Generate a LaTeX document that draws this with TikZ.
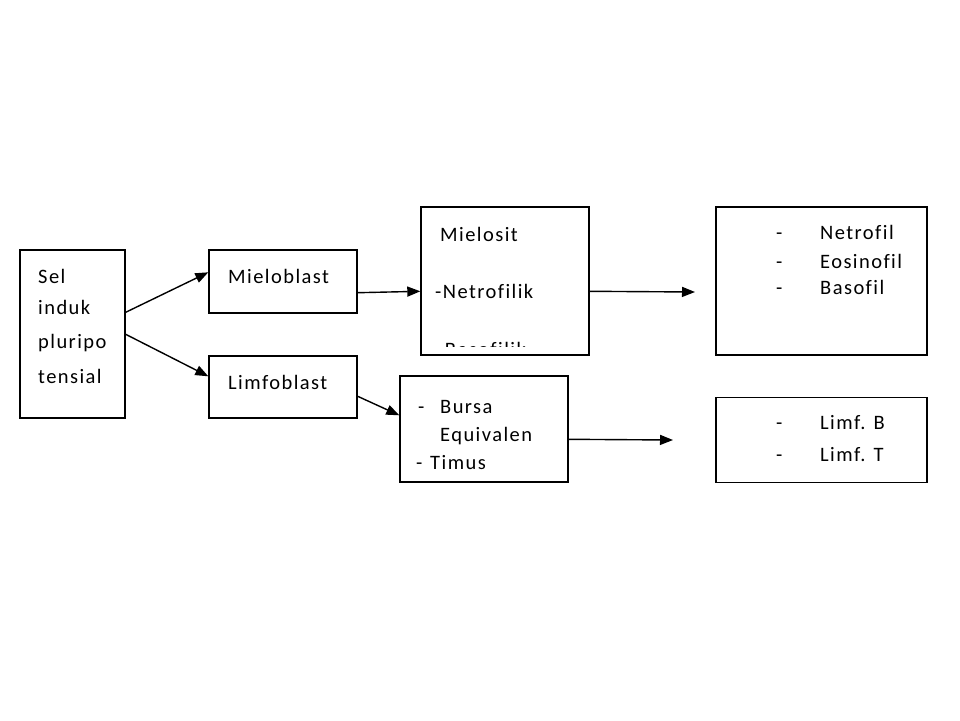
\documentclass[tikz,border=0pt]{standalone}
\usepackage{fontspec}
\setmainfont{Carlito}[LetterSpace=7,Ligatures={NoCommon}]
\usetikzlibrary{arrows.meta,calc}
\begin{document}
\begin{tikzpicture}[x=1pt,y=-1pt,
  box/.style={draw=black,line width=1.4pt,inner sep=0pt,fill=none},
  lbl/.style={anchor=base west,inner sep=0pt,font=\fontsize{20.5}{24}\selectfont},
  arr/.style={line width=1.4pt,-{Triangle[length=13pt,width=10pt]}}]
\useasboundingbox (0,0) rectangle (960,720);
% boxes
\node[box,minimum width=105pt,minimum height=168pt] (sel) at (72.5,334) {};
\node[box,minimum width=148pt,minimum height=63pt] (mb) at (283,281.5) {};
\node[box,minimum width=148pt,minimum height=62pt] (lb) at (283,387) {};
\node[box,minimum width=168pt,minimum height=148pt] (ms) at (505,281) {};
\node[box,minimum width=168pt,minimum height=106pt] (bu) at (484,429) {};
\node[box,minimum width=211pt,minimum height=148pt] (gr) at (821.5,281) {};
\node[box,minimum width=211pt,minimum height=85pt] (lf) at (821.5,440) {};
% texts
\node[lbl] (t1) at (38,283.5) {Sel};
\node[lbl] (t2) at (38,314.5) {induk};
\node[lbl] (t3) at (38,348.5) {pluripo};
\node[lbl] (t4) at (38,383.5) {tensial};
\node[lbl] (t5) at (228,283.5) {Mieloblast};
\node[lbl] (t6) at (228,389.5) {Limfoblast};
\node[lbl] (t7) at (440,241.5) {Mielosit};
\node[lbl] (t8) at (435,298.5) {-Netrofilik};
\begin{scope}
\clip (422,300) rectangle (588,346);
\node[lbl] (t9) at (437,356) {-Basofilik};
\end{scope}
\node[lbl] (t10) at (418,413.5) {-};
\node[lbl] (t11) at (440,413.5) {Bursa};
\node[lbl] (t12) at (440,441.5) {Equivalen};
\node[lbl] (t13) at (416,469.5) {-};
\node[lbl] (t14) at (430,469.5) {Timus};
\node[lbl] (d1) at (776,239.5) {-};
\node[lbl] (t15) at (820,239.5) {Netrofil};
\node[lbl] (d2) at (776,268.5) {-};
\node[lbl] (t16) at (820,268.5) {Eosinofil};
\node[lbl] (d3) at (776,294.5) {-};
\node[lbl] (t17) at (820,294.5) {Basofil};
\node[lbl] (d4) at (776,429.5) {-};
\node[lbl] (t18) at (820,429.5) {Limf. B};
\node[lbl] (d5) at (776,461.5) {-};
\node[lbl] (t19) at (820,461.5) {Limf. T};
% connectors
\coordinate (e1) at (695,292);
\coordinate (e2) at (673,440);
\draw[arr] ($(sel.north east)+(0,63)$) -- ($(mb.north west)+(0,23)$);
\draw[arr] ($(sel.north east)+(0,85)$) -- ($(lb.north west)+(0,21)$);
\draw[arr] ($(mb.south east)+(0,-21)$) -- ($(ms.north west)+(0,85)$);
\draw[arr] ($(ms.north east)+(0,85)$) -- (e1);
\draw[arr] ($(lb.north east)+(0,41)$) -- ($(bu.north west)+(0,40)$);
\draw[arr] ($(bu.north east)+(0,64)$) -- (e2);
\end{tikzpicture}
\end{document}
